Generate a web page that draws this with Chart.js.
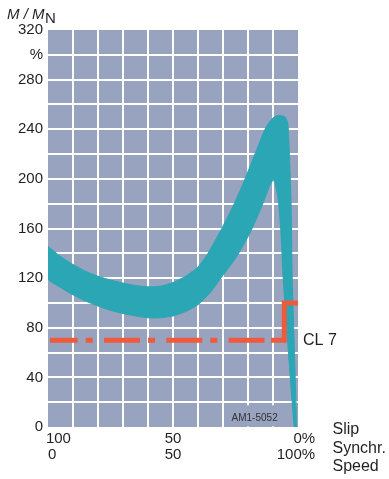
<!DOCTYPE html>
<html><head><meta charset="utf-8">
<script src="https://cdn.jsdelivr.net/npm/chart.js@4/dist/chart.umd.min.js"></script>
<style>html,body{margin:0;padding:0;background:#fff;}#wrap{width:389px;height:479px;position:relative;}</style>
</head><body><div id="wrap"><canvas id="c" width="389" height="479"></canvas></div>
<script>
// Torque band: upper boundary (slip %, M/MN %), left to right
const upperSlip = [100, 95, 90, 85, 80, 75, 70, 65, 60, 55, 50, 45, 40, 36, 30.5, 25.5, 21.2, 17.2, 13.2, 11, 9, 7, 5.2, 4.1, 3.5, 2.8, 2.3, 0.6];
const upperVal  = [145.5, 137.5, 131, 125.5, 121.5, 118.5, 116, 114, 113, 113.5, 116.5, 121.5, 129, 140, 160, 180, 200, 220, 240, 247, 250.5, 251, 250, 245, 223, 183, 119, 0];
// lower boundary, left to right
const lowerSlip = [100, 95, 90, 85, 80, 75, 70, 65, 60, 55, 50, 45, 40, 35, 31.2, 24.5, 19.2, 14.5, 11.2, 9.9, 9.2, 7.9, 6.8, 5.9, 1.5];
const lowerVal  = [119.5, 112.5, 106.5, 101.5, 97.5, 94, 91.5, 89.5, 88, 88, 89.5, 93, 98.6, 108.5, 119, 137.5, 156.4, 177.8, 195, 199, 196.6, 183, 156, 118.8, 0];
// CL 7 limit line
const clDashSlip = [99.2, 13.4];
const clDashVal  = [70, 70];
const clStepSlip = [10.8, 5.5, 5.5, 0];
const clStepVal  = [70, 70, 100, 100];
// axis ticks
const yLabelEvery = 40;
const yPercentTick = 300;
const xTickLabels = {100: ['     100', '  0'], 50: ['50', '50'], 0: ['   0%', '100% ']};
const sideLabels = ['Slip', 'Synchr.', 'Speed'];

const FONT = '"Liberation Sans", Arial, sans-serif';
const BG = '#98a3bf', TEAL = '#2ba6b4', ORANGE = '#f05a3c', TXT = '#231f20';

const band = [];
upperSlip.forEach((s, i) => band.push({x: s, y: upperVal[i]}));
for (let i = lowerSlip.length - 1; i >= 0; i--) band.push({x: lowerSlip[i], y: lowerVal[i]});
band.push({x: upperSlip[0], y: upperVal[0]});

const zip = (a, b) => a.map((v, i) => ({x: v, y: b[i]}));

const decor = {
  id: 'decor',
  beforeDraw(chart) {
    const {ctx, chartArea: a} = chart;
    ctx.save();
    ctx.fillStyle = BG;
    ctx.fillRect(a.left, a.top, a.right - a.left, a.bottom - a.top);
    ctx.restore();
  },
  beforeDatasetsDraw(chart) {
    const {ctx} = chart;
    const xs = chart.scales.x, ys = chart.scales.y;
    const x0 = xs.getPixelForValue(29), x1 = xs.getPixelForValue(6.5);
    const y0 = ys.getPixelForValue(17.5), y1 = ys.getPixelForValue(0.5);
    ctx.save();
    ctx.fillStyle = BG;
    ctx.fillRect(x0, y0, x1 - x0, y1 - y0);
    ctx.fillStyle = '#333';
    ctx.font = '10px ' + FONT;
    ctx.textAlign = 'center';
    ctx.textBaseline = 'middle';
    ctx.fillText('AM1-5052', (x0 + x1) / 2 + 1, 418);
    ctx.restore();
  },
  afterDraw(chart) {
    const {ctx} = chart;
    const ys = chart.scales.y;
    ctx.save();
    ctx.fillStyle = TXT;
    ctx.textBaseline = 'alphabetic';
    ctx.textAlign = 'left';
    ctx.font = 'italic 15px ' + FONT;
    const t = 'M / M';
    ctx.fillText(t, 7, 19);
    const w = ctx.measureText(t).width;
    ctx.font = '15px ' + FONT;
    ctx.fillText('N', 7 + w + 0.5, 22.5);
    ctx.font = '16px ' + FONT;
    ctx.textBaseline = 'middle';
    ctx.fillText('CL 7', 303, ys.getPixelForValue(70) + 0.5);
    const sy = [430, 448.5, 467];
    sideLabels.forEach((s, i) => ctx.fillText(s, 332.5, sy[i]));
    ctx.restore();
  }
};

const edgeTransparent = (lo, hi) => (c) => (c.tick && (c.tick.value === lo || c.tick.value === hi)) ? 'rgba(0,0,0,0)' : '#ffffff';

new Chart(document.getElementById('c'), {
  type: 'line',
  data: {
    datasets: [
      {data: zip(clDashSlip, clDashVal), borderColor: ORANGE, borderWidth: 5, borderDash: [36, 8, 7, 11.3], borderDashOffset: 8.3, pointRadius: 0, fill: false, order: 0, borderCapStyle: 'butt'},
      {data: zip(clStepSlip, clStepVal), borderColor: ORANGE, borderWidth: 5, pointRadius: 0, fill: false, order: 0, borderJoinStyle: 'miter', borderCapStyle: 'butt'},
      {data: band, borderColor: TEAL, backgroundColor: TEAL, borderWidth: 1, pointRadius: 0, fill: 'shape', tension: 0.2, order: 2, borderJoinStyle: 'round'}
    ]
  },
  options: {
    responsive: false,
    animation: false,
    devicePixelRatio: 1,
    layout: {padding: {top: 30, right: 91, left: 0, bottom: 0}},
    plugins: {legend: {display: false}, tooltip: {enabled: false}},
    scales: {
      x: {
        type: 'linear', reverse: true, min: 0, max: 100,
        ticks: {
          stepSize: 10, autoSkip: false, maxRotation: 0, minRotation: 0, padding: 4, color: TXT,
          font: {family: FONT, size: 15, lineHeight: 1.07},
          callback: (v) => xTickLabels[v] !== undefined ? xTickLabels[v] : ''
        },
        grid: {color: edgeTransparent(0, 100), lineWidth: 2, drawTicks: false},
        border: {display: false},
        afterFit: (s) => { s.height = 52; }
      },
      y: {
        min: 0, max: 320,
        ticks: {
          stepSize: 20, autoSkip: false, padding: 5, color: TXT,
          font: {family: FONT, size: 15},
          callback: (v) => v % yLabelEvery === 0 ? String(v) : (v === yPercentTick ? '%' : '')
        },
        grid: {color: edgeTransparent(0, 320), lineWidth: 2, drawTicks: false},
        border: {display: false},
        afterFit: (s) => { s.width = 48; }
      }
    }
  },
  plugins: [decor]
});
</script></body></html>
